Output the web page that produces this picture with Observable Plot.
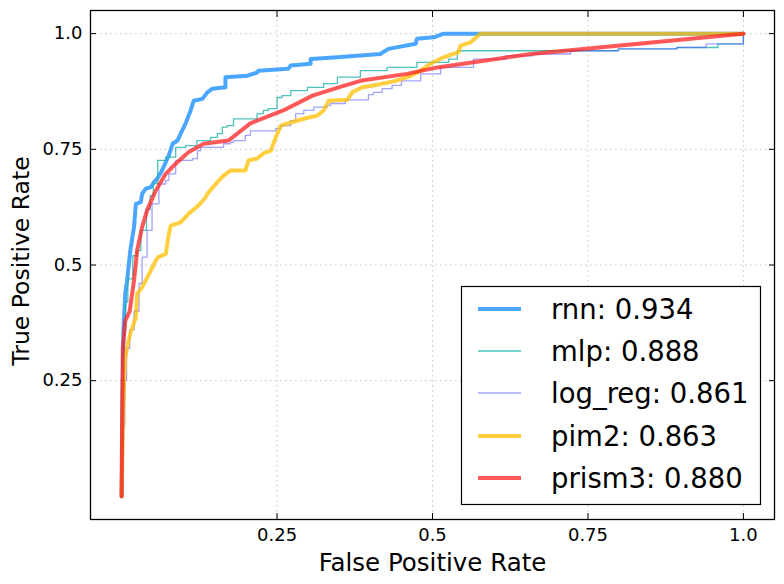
<!DOCTYPE html>
<html><head><meta charset="utf-8">
<script src="https://cdn.jsdelivr.net/npm/d3@7"></script>
<script src="https://cdn.jsdelivr.net/npm/@observablehq/plot@0.6"></script>
<style>
body{margin:0;background:#fff;font-family:"DejaVu Sans",sans-serif;}
#wrap{position:relative;width:784px;height:584px;}
#legend{position:absolute;left:0;top:0;}
</style></head><body><div id="wrap"></div>
<script>
const series = ["rnn", "mlp", "log_reg", "pim2", "prism3"];
const auc = [0.934, 0.888, 0.861, 0.863, 0.880];
const xTicks = [0.25, 0.5, 0.75, 1.0];
const yTicks = [0.25, 0.5, 0.75, 1.0];

const rnn = [[0,0],[0.002,0.25],[0.003,0.36],[0.006,0.44],[0.009,0.467],[0.014,0.531],[0.02,0.582],[0.023,0.632],[0.031,0.636],[0.033,0.654],[0.039,0.665],[0.047,0.668],[0.052,0.679],[0.057,0.686],[0.065,0.704],[0.071,0.722],[0.076,0.737],[0.082,0.762],[0.09,0.769],[0.095,0.784],[0.103,0.806],[0.111,0.834],[0.116,0.855],[0.13,0.859],[0.138,0.873],[0.146,0.881],[0.167,0.884],[0.167,0.906],[0.202,0.909],[0.218,0.916],[0.22,0.92],[0.268,0.924],[0.272,0.931],[0.304,0.935],[0.304,0.945],[0.347,0.949],[0.416,0.956],[0.429,0.967],[0.473,0.978],[0.475,0.989],[0.502,0.992],[0.518,1.0],[1,1]];
const mlp = [[0,0],[0.001,0.2],[0.003,0.35],[0.006,0.42],[0.01,0.47],[0.018,0.52],[0.025,0.531],[0.031,0.575],[0.04,0.62],[0.046,0.65],[0.051,0.676],[0.058,0.726],[0.071,0.733],[0.087,0.754],[0.103,0.758],[0.121,0.769],[0.143,0.776],[0.154,0.784],[0.162,0.798],[0.17,0.801],[0.18,0.816],[0.218,0.827],[0.228,0.834],[0.236,0.838],[0.25,0.862],[0.258,0.866],[0.272,0.877],[0.299,0.884],[0.325,0.892],[0.347,0.906],[0.384,0.92],[0.427,0.927],[0.475,0.938],[0.526,0.945],[0.54,0.963],[0.799,0.967],[0.893,0.97],[0.959,0.978],[1,1]];
const logReg = [[0,0],[0.002,0.15],[0.005,0.25],[0.008,0.32],[0.013,0.36],[0.02,0.4],[0.028,0.46],[0.033,0.517],[0.041,0.575],[0.049,0.632],[0.06,0.675],[0.071,0.683],[0.076,0.697],[0.087,0.726],[0.114,0.73],[0.122,0.747],[0.127,0.754],[0.164,0.762],[0.175,0.765],[0.18,0.769],[0.199,0.78],[0.207,0.79],[0.248,0.795],[0.256,0.801],[0.272,0.812],[0.28,0.827],[0.293,0.834],[0.309,0.841],[0.331,0.845],[0.336,0.849],[0.36,0.857],[0.397,0.868],[0.405,0.873],[0.419,0.881],[0.435,0.888],[0.45,0.898],[0.481,0.913],[0.513,0.927],[0.566,0.945],[0.617,0.952],[0.662,0.956],[0.722,0.963],[0.799,0.967],[0.893,0.97],[0.94,0.978],[1,1]];
const pim2 = [[0,0],[0.002,0.15],[0.004,0.25],[0.006,0.3],[0.009,0.322],[0.014,0.352],[0.023,0.387],[0.025,0.438],[0.033,0.452],[0.039,0.467],[0.047,0.488],[0.055,0.51],[0.059,0.517],[0.071,0.524],[0.076,0.567],[0.079,0.585],[0.095,0.592],[0.108,0.611],[0.124,0.629],[0.135,0.646],[0.138,0.654],[0.154,0.679],[0.164,0.693],[0.175,0.704],[0.199,0.704],[0.204,0.726],[0.218,0.73],[0.228,0.741],[0.24,0.747],[0.248,0.776],[0.256,0.801],[0.272,0.808],[0.293,0.816],[0.315,0.823],[0.325,0.834],[0.333,0.855],[0.363,0.857],[0.371,0.873],[0.387,0.884],[0.405,0.888],[0.441,0.898],[0.465,0.909],[0.481,0.92],[0.497,0.935],[0.518,0.949],[0.542,0.96],[0.545,0.974],[0.561,0.981],[0.577,1.0],[1,1]];
const prism3 = [[0,0],[0.001,0.2],[0.002,0.32],[0.006,0.38],[0.013,0.40],[0.02,0.467],[0.025,0.531],[0.033,0.582],[0.041,0.618],[0.055,0.661],[0.071,0.697],[0.087,0.719],[0.108,0.744],[0.132,0.762],[0.172,0.769],[0.207,0.806],[0.26,0.834],[0.307,0.866],[0.349,0.884],[0.384,0.898],[0.459,0.913],[0.508,0.927],[0.566,0.938],[0.658,0.956],[1,1]];

const data = [rnn, mlp, logReg, pim2, prism3];
const colors = ["#1E90FF", "#20B2AA", "#5555FF", "#FFBF00", "#FF2020"];
const opac = [0.8, 0.8, 0.55, 0.75, 0.75];
const widths = [4, 1.3, 1.3, 4, 4];
const curves = ["linear", "step-after", "step-after", "linear", "linear"];
const fmt = d => d === 1 ? "1.0" : String(d);

const lines = data.map((pts, i) => Plot.line(pts, {
  x: d => d[0], y: d => d[1], stroke: colors[i], strokeOpacity: opac[i],
  strokeWidth: widths[i], curve: curves[i], strokeLinejoin: "round"
}));

const chart = Plot.plot({
  width: 784, height: 584,
  marginLeft: 90, marginRight: 10, marginTop: 10, marginBottom: 65,
  x: {domain: [-0.05, 1.05]},
  y: {domain: [-0.05, 1.05]},
  style: {fontFamily: "DejaVu Sans", fontSize: "18px", color: "#000", background: "#fff", overflow: "visible"},
  marks: [
    Plot.gridX(xTicks, {stroke: "#c4c4c4", strokeOpacity: 1, strokeDasharray: "1.5,3.5"}),
    Plot.gridY(yTicks, {stroke: "#c4c4c4", strokeOpacity: 1, strokeDasharray: "1.5,3.5"}),
    ...lines,
    Plot.frame({stroke: "#000", strokeWidth: 1.3}),
    Plot.axisX(xTicks, {tickSize: 0, tickPadding: 9, tickFormat: fmt, fontSize: 18, label: null}),
    Plot.axisX(xTicks, {tickSize: -6, tickFormat: () => "", label: null}),
    Plot.axisX(xTicks, {anchor: "top", tickSize: -6, tickFormat: () => "", label: null}),
    Plot.axisY(yTicks, {tickSize: 0, tickPadding: 8, tickFormat: fmt, fontSize: 18, label: null}),
    Plot.axisY(yTicks, {tickSize: -6, tickFormat: () => "", label: null}),
    Plot.axisY(yTicks, {anchor: "right", tickSize: -6, tickFormat: () => "", label: null}),
    Plot.text(["False Positive Rate"], {frameAnchor: "bottom", dy: 44, fontSize: 24.5, lineAnchor: "middle", textAnchor: "middle"}),
    Plot.text(["True Positive Rate"], {frameAnchor: "left", dx: -69, dy: -4, rotate: -90, fontSize: 23.5, lineAnchor: "middle", textAnchor: "middle"})
  ]
});
const wrap = document.getElementById("wrap");
wrap.appendChild(chart);

// legend overlay
const lg = d3.select(wrap).append("svg").attr("id", "legend")
  .attr("width", 784).attr("height", 584).style("pointer-events", "none");
lg.append("rect").attr("x", 461.5).attr("y", 286.5).attr("width", 299).attr("height", 218)
  .attr("fill", "#fff").attr("stroke", "#000").attr("stroke-width", 1.2);
const rowY = [309, 351, 393, 436, 478];
series.forEach((s, i) => {
  lg.append("line").attr("x1", 478).attr("x2", 521).attr("y1", rowY[i]).attr("y2", rowY[i])
    .attr("stroke", colors[i]).attr("stroke-opacity", opac[i]).attr("stroke-width", widths[i]);
  lg.append("text").attr("x", 551).attr("y", rowY[i]).attr("dy", "0.36em")
    .attr("font-family", "DejaVu Sans").attr("font-size", 27.5)
    .text(`${s}: ${auc[i].toFixed(3)}`);
});
</script>
</body></html>
